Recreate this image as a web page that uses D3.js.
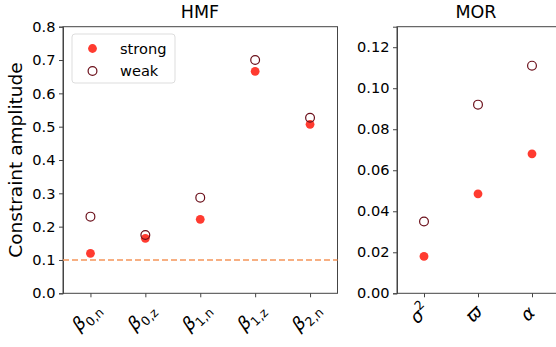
<!DOCTYPE html>
<html>
<head>
<meta charset="utf-8">
<script src="https://cdn.jsdelivr.net/npm/d3@7"></script>
<style>
  body { margin: 0; background: #fff; }
  svg { display: block; font-family: "DejaVu Sans", sans-serif; }
  .tick text { fill: #000; }
  .domain, .tick line { stroke: #444; }
</style>
</head>
<body>
<div id="chart"></div>
<script>
// HMF panel
const hmfParams = [
  { sym: 'β', sub: '0,n' },
  { sym: 'β', sub: '0,z' },
  { sym: 'β', sub: '1,n' },
  { sym: 'β', sub: '1,z' },
  { sym: 'β', sub: '2,n' }
];
const hmfStrong = [0.12, 0.165, 0.222, 0.666, 0.507];
const hmfWeak = [0.23, 0.175, 0.287, 0.70, 0.527];
const hmfTicks = [0, 0.1, 0.2, 0.3, 0.4, 0.5, 0.6, 0.7, 0.8];
const threshold = 0.1;

// MOR panel
const morParams = [
  { sym: 'σ', sup: '2' },
  { sym: 'ϖ' },
  { sym: 'α' }
];
const morStrong = [0.018, 0.0485, 0.068];
const morWeak = [0.035, 0.092, 0.111];
const morTicks = [0, 0.02, 0.04, 0.06, 0.08, 0.10, 0.12];

const width = 556, height = 347;
const strongColor = '#ff3b30';
const weakColor = '#6b0f1a';
const plotTop = 26.7, plotBottom = 293.3;
const font = '"DejaVu Sans", sans-serif';

const svg = d3.select('#chart').append('svg')
  .attr('width', width)
  .attr('height', height);

function drawPanel(opts) {
  const x = d3.scaleLinear().domain(opts.xDomain).range(opts.xRange);
  const y = d3.scaleLinear().domain(opts.yDomain).range([plotBottom, plotTop]);
  const g = svg.append('g');

  // frame
  g.append('rect')
    .attr('x', opts.xRange[0]).attr('y', plotTop)
    .attr('width', opts.xRange[1] - opts.xRange[0])
    .attr('height', plotBottom - plotTop)
    .attr('fill', 'none').attr('stroke', '#444').attr('stroke-width', 1);

  const yAxis = d3.axisLeft(y).tickValues(opts.yTicks)
    .tickFormat(d3.format(opts.yFormat)).tickSize(4).tickPadding(3.5);
  g.append('g').attr('transform', `translate(${opts.xRange[0]},0)`).call(yAxis)
    .attr('font-family', font).attr('font-size', 14.6);

  const idx = d3.range(opts.params.length);
  const xAxis = d3.axisBottom(x).tickValues(idx).tickFormat('').tickSize(4);
  g.append('g').attr('transform', `translate(0,${plotBottom})`).call(xAxis)
    .call(s => s.select('.domain').remove());

  // rotated math tick labels
  idx.forEach(i => {
    const p = opts.params[i];
    const t = g.append('text')
      .attr('transform', `translate(${x(i) + opts.labelDx},${opts.labelY}) rotate(-45)`)
      .attr('text-anchor', 'middle')
      .attr('font-size', 18)
      .attr('font-style', 'italic');
    t.append('tspan').text(p.sym);
    if (p.sub) {
      t.append('tspan').attr('font-size', 12.5).attr('font-style', 'normal')
        .attr('dy', 4.5).text(p.sub);
    }
    if (p.sup) {
      t.append('tspan').attr('font-size', 12.5).attr('font-style', 'normal')
        .attr('dy', -8).text(p.sup);
    }
  });

  if (opts.threshold != null) {
    g.append('line')
      .attr('x1', opts.xRange[0]).attr('x2', opts.xRange[1])
      .attr('y1', y(opts.threshold)).attr('y2', y(opts.threshold))
      .attr('stroke', '#f5955a').attr('stroke-width', 1.6)
      .attr('stroke-dasharray', '6,3');
  }

  g.append('g').selectAll('circle')
    .data(opts.strong).join('circle')
    .attr('cx', (d, i) => x(i)).attr('cy', d => y(d))
    .attr('r', 4.4).attr('fill', strongColor);

  g.append('g').selectAll('circle')
    .data(opts.weak).join('circle')
    .attr('cx', (d, i) => x(i)).attr('cy', d => y(d))
    .attr('r', 4.4).attr('fill', 'none')
    .attr('stroke', weakColor).attr('stroke-width', 1.2);

  g.append('text')
    .attr('x', opts.titleX).attr('y', 17.5)
    .attr('text-anchor', 'middle').attr('font-size', 17.5)
    .text(opts.title);

  return { x, y, g };
}

drawPanel({
  params: hmfParams, strong: hmfStrong, weak: hmfWeak,
  xDomain: [-0.5, 4.5], xRange: [63, 337.5],
  yDomain: [0, 0.8], yTicks: hmfTicks, yFormat: '.1f',
  threshold: threshold, title: 'HMF', titleX: 200,
  labelY: 321, labelDx: 0
});

drawPanel({
  params: morParams, strong: morStrong, weak: morWeak,
  xDomain: [-0.5, 2.5], xRange: [397, 559],
  yDomain: [0, 0.13], yTicks: morTicks, yFormat: '.2f',
  threshold: null, title: 'MOR', titleX: 476,
  labelY: 318, labelDx: 0
});

// y label
svg.append('text')
  .attr('transform', `translate(22,${(plotTop + plotBottom) / 2}) rotate(-90)`)
  .attr('text-anchor', 'middle').attr('font-size', 18.5)
  .text('Constraint amplitude');

// legend
const legend = svg.append('g');
legend.append('rect')
  .attr('x', 72).attr('y', 34).attr('width', 103).attr('height', 49)
  .attr('rx', 3).attr('fill', '#fff').attr('stroke', '#ddd');
legend.append('circle').attr('cx', 92.5).attr('cy', 48.5).attr('r', 4.4).attr('fill', strongColor);
legend.append('circle').attr('cx', 92.5).attr('cy', 71).attr('r', 4.4)
  .attr('fill', 'none').attr('stroke', weakColor).attr('stroke-width', 1.2);
legend.append('text').attr('x', 120).attr('y', 53.5).attr('font-size', 14.6).text('strong');
legend.append('text').attr('x', 120).attr('y', 76).attr('font-size', 14.6).text('weak');
</script>
</body>
</html>
